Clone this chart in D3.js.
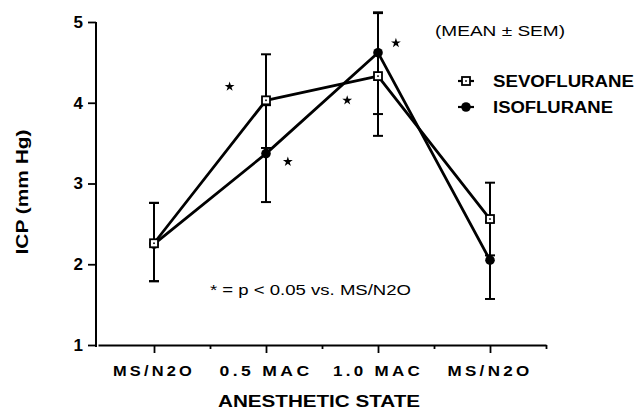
<!DOCTYPE html>
<html>
<head>
<meta charset="utf-8">
<script src="https://cdn.jsdelivr.net/npm/d3@7"></script>
<style>
  html, body { margin: 0; padding: 0; background: #fff; }
  svg { display: block; }
  text { font-family: "Liberation Sans", Arial, Helvetica, sans-serif; fill: #000; }
</style>
</head>
<body>
<svg id="chart" width="638" height="410"></svg>
<script>
// ---------------- data ----------------
const categories = ["MS/N2O", "0.5 MAC", "1.0 MAC", "MS/N2O"];
const yTicks = [1, 2, 3, 4, 5];
const sevoMean = [2.26, 4.03, 4.33, 2.56];
const sevoLow  = [1.79, 3.44, 3.59, 2.11];
const sevoHigh = [2.76, 4.60, 5.11, 3.01];
const isoMean  = [2.25, 3.37, 4.62, 2.05];
const isoLow   = [1.79, 2.77, 3.86, 1.57];
const isoHigh  = [2.76, 3.97, 5.12, 2.53];
// significance markers (x in half-category slots, y in mm Hg)
const starX = [2.35, 3.39, 4.45, 5.32];
const starY = [4.20, 3.27, 4.03, 4.74];
const seriesNames = ["SEVOFLURANE", "ISOFLURANE"];

// ---------------- scales ----------------
const svg = d3.select("#chart");
const x = d3.scaleLinear().domain([0, 2 * categories.length]).range([98, 546]);
const y = d3.scaleLinear().domain([1, 5]).range([345, 22]);
const catX = i => x(2 * i + 1);

// ---------------- axes ----------------
const yAxis = svg.append("g").attr("transform", "translate(96,0)")
  .call(d3.axisLeft(y).tickValues(yTicks).tickFormat(d3.format("d")).tickSize(8).tickPadding(5));
yAxis.select(".domain").attr("stroke-width", 2).attr("d", `M0,${y(5)}V${y(1) + 2}`);
yAxis.selectAll(".tick line").attr("stroke-width", 1.8);
yAxis.selectAll(".tick text").attr("font-size", 17).attr("font-weight", "bold")
  .attr("font-family", "Liberation Sans, Arial, sans-serif");

const slotTicks = d3.range(0, 2 * categories.length + 1);
const xAxis = svg.append("g").attr("transform", `translate(0,${y(1)})`)
  .call(d3.axisBottom(x).tickValues(slotTicks).tickSizeOuter(0).tickFormat(""));
xAxis.select(".domain").attr("stroke-width", 2);
xAxis.selectAll(".tick line")
  .attr("stroke-width", 1.8)
  .attr("y2", d => d === 0 ? 0 : (d % 2 === 1 ? 8 : 4));

const labelLen = [82, 93, 90, 85];
svg.append("g").selectAll("text").data(categories).join("text")
  .attr("x", (d, i) => catX(i)).attr("y", 376)
  .attr("text-anchor", "middle").attr("font-size", 15.5).attr("font-weight", "bold")
  .attr("letter-spacing", 3)
  .attr("textLength", (d, i) => labelLen[i]).attr("lengthAdjust", "spacingAndGlyphs")
  .text(d => d);

svg.append("text").attr("x", 319).attr("y", 407).attr("text-anchor", "middle")
  .attr("font-size", 16).attr("font-weight", "bold")
  .attr("textLength", 202).attr("lengthAdjust", "spacingAndGlyphs")
  .text("ANESTHETIC STATE");

svg.append("text").attr("transform", "translate(28,192) rotate(-90)")
  .attr("text-anchor", "middle").attr("font-size", 17).attr("font-weight", "bold")
  .attr("textLength", 125).attr("lengthAdjust", "spacingAndGlyphs")
  .text("ICP (mm Hg)");

// ---------------- error bars ----------------
function errorBars(low, high) {
  const g = svg.append("g").attr("stroke", "#000").attr("stroke-width", 2).attr("fill", "none");
  low.forEach((lo, i) => {
    const cx = catX(i);
    g.append("line").attr("x1", cx).attr("x2", cx).attr("y1", y(lo)).attr("y2", y(high[i]));
    g.append("line").attr("x1", cx - 5).attr("x2", cx + 5).attr("y1", y(lo)).attr("y2", y(lo));
    g.append("line").attr("x1", cx - 5).attr("x2", cx + 5).attr("y1", y(high[i])).attr("y2", y(high[i]));
  });
}
errorBars(isoLow, isoHigh);
errorBars(sevoLow, sevoHigh);

// ---------------- lines ----------------
const line = d3.line().x((d, i) => catX(i)).y(d => y(d));
svg.append("path").datum(isoMean).attr("d", line)
  .attr("fill", "none").attr("stroke", "#000").attr("stroke-width", 2.8).attr("stroke-linejoin", "round");
svg.append("path").datum(sevoMean).attr("d", line)
  .attr("fill", "none").attr("stroke", "#000").attr("stroke-width", 2.8).attr("stroke-linejoin", "round");

// ---------------- markers ----------------
function isoMarker(sel, cx, cy) {
  sel.append("circle").attr("cx", cx).attr("cy", cy).attr("r", 4.8).attr("fill", "#000");
}
function sevoMarker(sel, cx, cy) {
  sel.append("rect").attr("x", cx - 4).attr("y", cy - 4).attr("width", 8).attr("height", 8)
    .attr("fill", "#fff").attr("stroke", "#000").attr("stroke-width", 1.8);
  sel.append("rect").attr("x", cx - 0.8).attr("y", cy - 0.8).attr("width", 1.6).attr("height", 1.6).attr("fill", "#000");
}
const mk = svg.append("g");
isoMean.forEach((v, i) => isoMarker(mk, catX(i), y(v)));
sevoMean.forEach((v, i) => sevoMarker(mk, catX(i), y(v)));

// ---------------- significance stars ----------------
const star = d3.symbol(d3.symbolStar).size(30);
svg.append("g").selectAll("path").data(starX).join("path")
  .attr("transform", (d, i) => `translate(${x(d)},${y(starY[i])})`)
  .attr("d", star).attr("fill", "#000");

// ---------------- annotations & legend ----------------
svg.append("text").attr("x", 435).attr("y", 36).attr("font-size", 15)
  .attr("textLength", 130).attr("lengthAdjust", "spacingAndGlyphs")
  .text("(MEAN \u00B1 SEM)");

svg.append("text").attr("x", 210).attr("y", 295).attr("font-size", 14.5)
  .attr("textLength", 201).attr("lengthAdjust", "spacingAndGlyphs")
  .text("* = p < 0.05 vs. MS/N2O");

const legY = [81, 107];
const legLen = [141, 120];
const leg = svg.append("g");
seriesNames.forEach((name, i) => {
  leg.append("line").attr("x1", 458).attr("x2", 474).attr("y1", legY[i]).attr("y2", legY[i])
    .attr("stroke", "#000").attr("stroke-width", 2.2);
  if (i === 0) sevoMarker(leg, 466, legY[i]); else isoMarker(leg, 466, legY[i]);
  leg.append("text").attr("x", 493).attr("y", legY[i] + 6).attr("font-size", 16).attr("font-weight", "bold")
    .attr("textLength", legLen[i]).attr("lengthAdjust", "spacingAndGlyphs").text(name);
});
</script>
</body>
</html>
